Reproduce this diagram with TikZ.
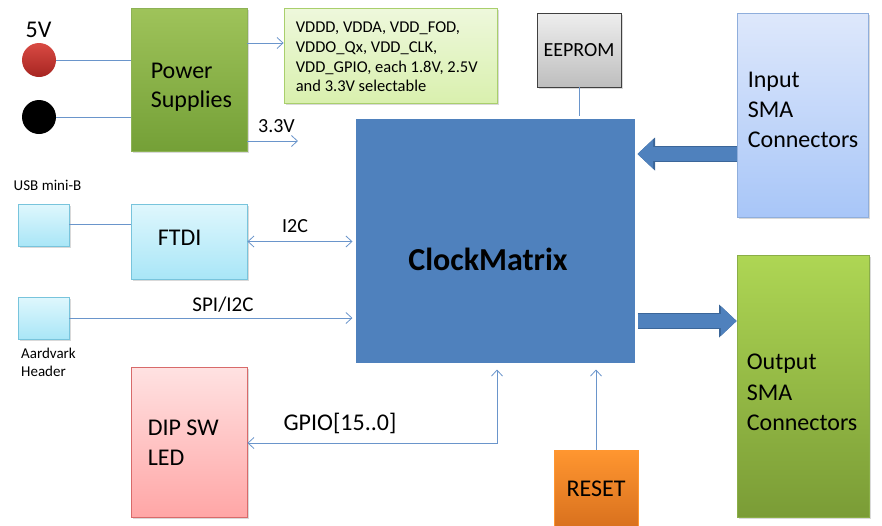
\documentclass[tikz,border=0pt]{standalone}
\usepackage{fontspec}
\setmainfont{Carlito}
\usetikzlibrary{arrows.meta,shadows}
\definecolor{wireblue}{HTML}{6A95CB}
\definecolor{pstop}{HTML}{9FC35A}
\definecolor{psbot}{HTML}{74A037}
\definecolor{psedge}{HTML}{8DB255}
\definecolor{vddtop}{HTML}{EEF8DC}
\definecolor{vddbot}{HTML}{D9F0AE}
\definecolor{vddedge}{HTML}{A9CF6C}
\definecolor{cytop}{HTML}{DFF7FD}
\definecolor{cybot}{HTML}{A9E6F7}
\definecolor{cyedge}{HTML}{78C4DC}
\definecolor{pktop}{HTML}{FFE2E2}
\definecolor{pkbot}{HTML}{FFA6A6}
\definecolor{pkedge}{HTML}{D86A6A}
\definecolor{cmblue}{HTML}{4F81BD}
\definecolor{cmedge}{HTML}{3B6699}
\definecolor{eetop}{HTML}{EEEEEE}
\definecolor{eebot}{HTML}{BEBEBE}
\definecolor{eeedge}{HTML}{404040}
\definecolor{intop}{HTML}{DEE8FB}
\definecolor{inbot}{HTML}{A8C6F8}
\definecolor{inedge}{HTML}{8FAEDC}
\definecolor{outtop}{HTML}{AED654}
\definecolor{outbot}{HTML}{7A9C36}
\definecolor{outedge}{HTML}{8AAE47}
\definecolor{rstop}{HTML}{FF9630}
\definecolor{rsbot}{HTML}{D9711E}
\definecolor{redtop}{HTML}{D94A43}
\definecolor{redbot}{HTML}{A62521}
\newcommand\fsz[2]{\fontsize{#1}{#2}\selectfont}
\tikzset{
  box/.style={draw, line width=0.8pt, inner sep=0pt,
    drop shadow={shadow xshift=1.5pt,shadow yshift=-1.5pt,opacity=0.3}},
  intext/.style={anchor=west, align=left, inner sep=0pt},
  freetext/.style={inner sep=0pt, align=left},
  wire/.style={draw=wireblue, line width=0.8pt},
  tip/.style={-{Straight Barb[length=6pt,width=11pt]}},
  bothtips/.style={{Straight Barb[length=6pt,width=11pt]}-{Straight Barb[length=6pt,width=11pt]}},
  bigedge/.style={draw=cmedge, line width=16.6pt, -{Triangle[length=17.5pt,width=33pt,line width=0pt]}},
  bigarrow/.style={draw=cmblue, line width=14pt, -{Triangle[length=15.5pt,width=29pt,line width=0pt]}}
}
\begin{document}
\begin{tikzpicture}[x=1pt,y=-1pt]
  \useasboundingbox (0,0) rectangle (882,525);
  \node[box, draw=psedge, top color=pstop, bottom color=psbot, minimum width=116pt, minimum height=143pt,
    label={[intext, font=\fsz{24}{29}, xshift=20pt, yshift=-7.4pt]west:Power\\Supplies}] (ps) at (189,79.5) {};
  \node[box, draw=vddedge, top color=vddtop, bottom color=vddbot, minimum width=213pt, minimum height=95pt,
    label={[intext, font=\fsz{16.5}{19.7}, xshift=12pt, yshift=-1.5pt]west:VDDD, VDDA, VDD\_FOD,\\VDDO\_Qx, VDD\_CLK,\\VDD\_GPIO, each 1.8V, 2.5V\\and 3.3V selectable}] (vdd) at (390.5,55.5) {};
  \node[box, draw=cyedge, top color=cytop, bottom color=cybot, minimum width=51pt, minimum height=42pt] (usb) at (43.5,225) {};
  \node[box, draw=cyedge, top color=cytop, bottom color=cybot, minimum width=116pt, minimum height=75pt,
    label={[intext, font=\fsz{24}{29}, xshift=27pt, yshift=3.5pt]west:FTDI}] (ftdi) at (189,241.5) {};
  \node[box, draw=cyedge, top color=cytop, bottom color=cybot, minimum width=51pt, minimum height=42pt] (aard) at (43.5,318) {};
  \node[box, draw=pkedge, top color=pktop, bottom color=pkbot, minimum width=116pt, minimum height=150pt,
    label={[intext, font=\fsz{24}{30}, xshift=17pt, yshift=-1pt]west:DIP SW\\LED}] (dip) at (189,442) {};
  \node[draw=white, line width=3pt, fill=cmblue, minimum width=282pt, minimum height=247pt,
    drop shadow={shadow xshift=1.5pt,shadow yshift=-1.5pt,opacity=0.25},
    label={[font=\fsz{32}{38}\bfseries, inner sep=0pt, xshift=-7pt, yshift=-19.3pt]center:ClockMatrix}] (clock) at (495,240.5) {};
  \node[box, draw=eeedge, top color=eetop, bottom color=eebot, minimum width=84pt, minimum height=74pt,
    font=\fsz{20}{24}] (eeprom) at (579,50) {EEPROM};
  \node[box, draw=inedge, top color=intop, bottom color=inbot, minimum width=131pt, minimum height=204pt,
    label={[intext, font=\fsz{24}{30}, xshift=11pt, yshift=5pt]west:Input\\SMA\\Connectors}] (insma) at (802.5,115) {};
  \node[box, draw=outedge, top color=outtop, bottom color=outbot, minimum width=132pt, minimum height=262pt,
    label={[intext, font=\fsz{24}{30.5}, xshift=10pt, yshift=-6.5pt]west:Output\\SMA\\Connectors}] (outsma) at (803,386) {};
  \node[draw=rstop, top color=rstop, bottom color=rsbot, minimum width=84pt, minimum height=77pt,
    inner sep=0pt, font=\fsz{24}{29}] (reset) at (596,488.5) {RESET};
  \node[circle, top color=redtop, bottom color=redbot, minimum size=34pt, inner sep=0pt] (red) at (39,60) {};
  \node[circle, fill=black, minimum size=34pt, inner sep=0pt] (blk) at (39,117) {};
  \node[freetext, font=\fsz{24}{29}] (vfive) at (38.5,30) {5V};
  \node[freetext, font=\fsz{20}{24}] (vthree) at (276.5,126) {3.3V};
  \node[freetext, font=\fsz{15}{18}] (usblbl) at (47.5,185) {USB mini-B};
  \node[freetext, font=\fsz{15}{18}, anchor=north west] (aardlbl) at (21,348) {Aardvark\\Header};
  \node[freetext, font=\fsz{20}{24}] (iic) at (295,226) {I2C};
  \node[freetext, font=\fsz{21}{25}] (spi) at (223,305) {SPI/I2C};
  \node[freetext, font=\fsz{24}{29}] (gpio) at (340,423) {GPIO[15..0]};
  \coordinate (v33) at (298,141);
  \coordinate (cmb) at ([yshift=-4pt]clock.south);
  \begin{scope}[wire]
    \draw (red) -- (red -| ps.west);
    \draw (blk) -- (blk -| ps.west);
    \draw[tip] (ps.east |- 0,43) -- (vdd.west |- 0,43);
    \draw[tip] (ps.east |- v33) -- (v33);
    \draw (usb.east |- 0,224) -- (ftdi.west |- 0,224);
    \draw[bothtips] (ftdi.east) -- (ftdi.east -| clock.west);
    \draw[tip] (aard.east) -- (aard.east -| clock.west);
    \draw (eeprom.south) -- (eeprom.south |- clock.north);
    \draw[bothtips] (dip.east |- 0,443) -| ([xshift=2pt]cmb);
    \draw[tip] (reset.north) -- (reset.north |- cmb);
  \end{scope}
  \draw[bigedge] (insma.west |- 0,154) -- (clock.east |- 0,154);
  \draw[bigarrow] (insma.west |- 0,154) -- (clock.east |- 0,154);
  \draw[bigedge] (clock.east |- 0,321) -- (outsma.west |- 0,321);
  \draw[bigarrow] (clock.east |- 0,321) -- (outsma.west |- 0,321);
\end{tikzpicture}
\end{document}
